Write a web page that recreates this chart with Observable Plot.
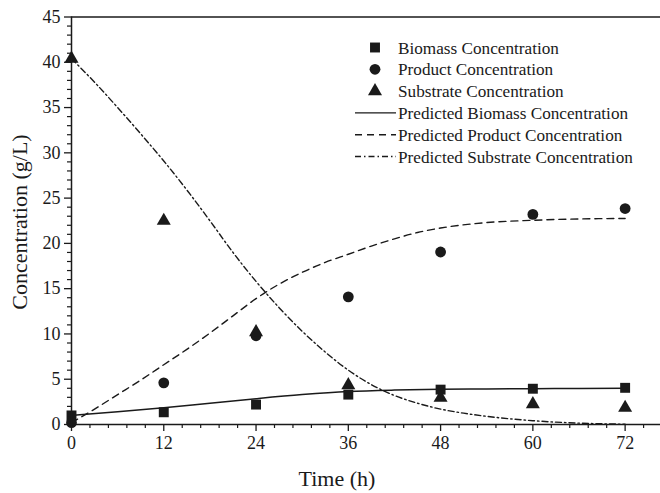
<!DOCTYPE html>
<html>
<head>
<meta charset="utf-8">
<script src="https://cdn.jsdelivr.net/npm/d3@7"></script>
<script src="https://cdn.jsdelivr.net/npm/@observablehq/plot@0.6"></script>
<style>
  html, body { margin: 0; padding: 0; background: #fff; }
  #wrap { position: relative; width: 660px; height: 493px; overflow: hidden; }
</style>
</head>
<body>
<div id="wrap"></div>
<script>
// Measured data
const times = [0, 12, 24, 36, 48, 60, 72];
const biomass = [1.0, 1.35, 2.2, 3.3, 3.85, 3.95, 4.05];
const product = [0.2, 4.6, 9.8, 14.1, 19.05, 23.2, 23.85];
const substrate = [40.4, 22.5, 10.2, 4.35, 2.95, 2.25, 1.85];

// Model predictions
const predBiomassT = [0, 6, 12, 18, 24, 30, 36, 42, 48, 54, 60, 66, 72];
const predBiomass = [1.0, 1.4, 1.84, 2.35, 2.85, 3.3, 3.64, 3.8, 3.88, 3.93, 3.96, 3.98, 4.0];
const predProductT = [0, 3, 6, 9, 12, 15, 18, 21, 24, 27, 30, 33, 36, 39, 42, 45, 48, 54, 60, 66, 72];
const predProduct = [0.2, 1.7, 3.3, 4.9, 6.6, 8.3, 10.1, 12.0, 13.9, 15.5, 16.8, 17.9, 18.8, 19.7, 20.5, 21.2, 21.7, 22.3, 22.55, 22.7, 22.75];
const predSubstrateT = [0, 3, 6, 9, 12, 15, 18, 21, 24, 27, 30, 33, 36, 39, 42, 45, 48, 51, 54, 60, 66, 72];
const predSubstrate = [40.4, 37.8, 35.0, 32.1, 29.1, 25.9, 22.5, 19.0, 15.8, 12.9, 10.3, 8.0, 6.0, 4.4, 3.2, 2.35, 1.7, 1.25, 0.9, 0.42, 0.15, 0.03];

const xMajor = [0, 12, 24, 36, 48, 60, 72];
const xMinor = d3.range(0, 77, 2.4).filter(v => !xMajor.some(m => Math.abs(m - v) < 1e-6));
const yMajor = [0, 5, 10, 15, 20, 25, 30, 35, 40, 45];
const yMinor = d3.range(0, 46, 1).filter(v => v % 5 !== 0);

const legendLabels = [
  "Biomass Concentration",
  "Product Concentration",
  "Substrate Concentration",
  "Predicted Biomass Concentration",
  "Predicted Product Concentration",
  "Predicted Substrate Concentration"
];

const pts = (xs, ys) => xs.map((x, i) => ({x, y: ys[i]}));

const ink = "#1a1a1a";
const serif = "'Liberation Serif', 'Times New Roman', 'DejaVu Serif', serif";
const dashStyle = "7,5";
const dashDotStyle = "6,3,1.5,3";

const chart = Plot.plot({
  width: 660,
  height: 493,
  marginLeft: 71,
  marginRight: 0,
  marginTop: 16.5,
  marginBottom: 69,
  style: {fontFamily: serif, fontSize: "18px", color: ink, background: "white"},
  x: {domain: [0, 76.6], axis: null},
  y: {domain: [0, 45], axis: null},
  marks: [
    Plot.line(pts(predBiomassT, predBiomass), {x: "x", y: "y", stroke: ink, strokeWidth: 1.5, curve: "monotone-x"}),
    Plot.line(pts(predProductT, predProduct), {x: "x", y: "y", stroke: ink, strokeWidth: 1.4, strokeDasharray: dashStyle, curve: "monotone-x"}),
    Plot.line(pts(predSubstrateT, predSubstrate), {x: "x", y: "y", stroke: ink, strokeWidth: 1.4, strokeDasharray: dashDotStyle, curve: "monotone-x"}),
    Plot.dot(pts(times, biomass), {x: "x", y: "y", symbol: "square", r: 5.6, fill: ink, stroke: "none"}),
    Plot.dot(pts(times, product), {x: "x", y: "y", symbol: "circle", r: 5.4, fill: ink, stroke: "none"}),
    Plot.dot(pts(times, substrate), {x: "x", y: "y", symbol: "triangle", r: 5.2, fill: ink, stroke: "none"}),
    Plot.ruleY([0], {stroke: ink, strokeWidth: 1.5}),
    Plot.ruleY([45], {stroke: ink, strokeWidth: 1.5}),
    Plot.ruleX([0], {stroke: ink, strokeWidth: 1.5}),
    Plot.axisX(xMajor, {tickSize: 7, tickPadding: 5, stroke: ink, strokeWidth: 1.3, fontSize: 18, fill: ink, label: null}),
    Plot.axisX(xMinor, {tickSize: 4, text: null, stroke: ink, strokeWidth: 1.2, label: null}),
    Plot.axisY(yMajor, {tickSize: 7, tickPadding: 4, stroke: ink, strokeWidth: 1.3, fontSize: 18, fill: ink, label: null}),
    Plot.axisY(yMinor, {tickSize: 4, text: null, stroke: ink, strokeWidth: 1.2, label: null})
  ]
});

const wrap = document.getElementById("wrap");
wrap.appendChild(chart);

const svg = d3.select(chart);
svg.append("text")
  .attr("x", 337).attr("y", 486)
  .attr("text-anchor", "middle")
  .attr("font-size", 22).attr("fill", ink)
  .text("Time (h)");
svg.append("text")
  .attr("transform", "translate(27,222) rotate(-90)")
  .attr("text-anchor", "middle")
  .attr("font-size", 22).attr("fill", ink)
  .text("Concentration (g/L)");

// legend
const lg = svg.append("g").attr("class", "legend");
const rowY = i => 47.5 + i * 21.8;
const symX = 375;
const symbols = [d3.symbolSquare, d3.symbolCircle, d3.symbolTriangle];
[5.6, 5.4, 5.2].forEach((r, i) => {
  lg.append("path")
    .attr("d", d3.symbol(symbols[i], Math.PI * r * r)())
    .attr("transform", `translate(${symX},${rowY(i)})`)
    .attr("fill", ink);
});
const lineStyles = [null, dashStyle, dashDotStyle];
lineStyles.forEach((ds, j) => {
  const l = lg.append("line")
    .attr("x1", 355).attr("x2", 396)
    .attr("y1", rowY(j + 3)).attr("y2", rowY(j + 3))
    .attr("stroke", ink).attr("stroke-width", 1.4);
  if (ds) l.attr("stroke-dasharray", ds);
});
legendLabels.forEach((t, i) => {
  lg.append("text")
    .attr("x", 398).attr("y", rowY(i))
    .attr("dy", "0.35em")
    .attr("text-anchor", "start")
    .attr("font-size", 17.2).attr("fill", ink)
    .text(t);
});

svg.selectAll("text").style("font-family", serif);
</script>
</body>
</html>
